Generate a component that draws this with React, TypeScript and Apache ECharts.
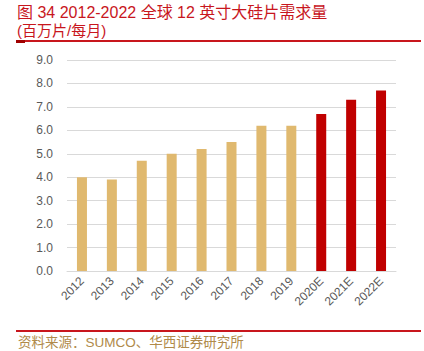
import React, { useEffect, useRef } from "react";
import * as echarts from "echarts";

const categories = ["2012", "2013", "2014", "2015", "2016", "2017", "2018", "2019", "2020E", "2021E", "2022E"];
const demand = [4.0, 3.9, 4.7, 5.0, 5.2, 5.5, 6.2, 6.2, 6.7, 7.3, 7.7];
const forecastFrom = 8;
const titleLine1 = "图 34 2012-2022 全球 12 英寸大硅片需求量";
const titleLine2 = "(百万片/每月)";
const sourceText = "资料来源：SUMCO、华西证券研究所";

export default function App() {
  const ref = useRef<HTMLDivElement>(null);
  useEffect(() => {
    if (!ref.current) return;
    const chart = echarts.init(ref.current, undefined, { renderer: "svg" });
    const font = '"Liberation Sans", "Noto Sans CJK SC", sans-serif';
    chart.setOption({
      animation: false,
      grid: { left: 67, right: 28, top: 60, bottom: 80 },
      xAxis: {
        type: "category",
        data: categories,
        axisLine: { lineStyle: { color: "#d9d9d9", width: 1 } },
        axisTick: { show: false },
        axisLabel: { rotate: 45, color: "#595959", fontSize: 12, fontFamily: "Liberation Sans, Arial, sans-serif", margin: 8, interval: 0 },
      },
      yAxis: {
        type: "value",
        min: 0,
        max: 9,
        interval: 1,
        axisLine: { show: false },
        axisTick: { show: false },
        splitLine: { lineStyle: { color: "#d9d9d9", width: 1 } },
        axisLabel: { color: "#595959", fontSize: 12, fontFamily: "Liberation Sans, Arial, sans-serif", margin: 14, formatter: (v: number) => v.toFixed(1) },
      },
      series: [
        {
          type: "bar",
          barWidth: 10,
          data: demand.map((v, i) => ({
            value: v,
            itemStyle: { color: i >= forecastFrom ? "#c00000" : "#e0b96f" },
          })),
        },
      ],
      graphic: [
        {
          type: "text",
          x: 17,
          y: 12,
          style: { text: titleLine1, fill: "#c8161d", font: `16px ${font}`, verticalAlign: "middle" },
        },
        {
          type: "text",
          x: 17,
          y: 30.5,
          style: { text: titleLine2, fill: "#c8161d", font: `15px ${font}`, verticalAlign: "middle" },
        },
        { type: "rect", shape: { x: 16, y: 40, width: 405, height: 2 }, style: { fill: "#c8161d" } },
        { type: "rect", shape: { x: 16, y: 40, width: 9, height: 3 }, style: { fill: "#a00000" } },
        { type: "rect", shape: { x: 16, y: 330, width: 405, height: 2 }, style: { fill: "#c8161d" } },
        { type: "text", x: 18, y: 342, style: { text: sourceText, fill: "#b08a4a", font: `13.5px ${font}`, verticalAlign: "middle" } },
      ],
    });
    return () => chart.dispose();
  }, []);
  return <div ref={ref} style={{ width: 424, height: 351, position: "absolute", left: 0, top: 0 }} />;
}
